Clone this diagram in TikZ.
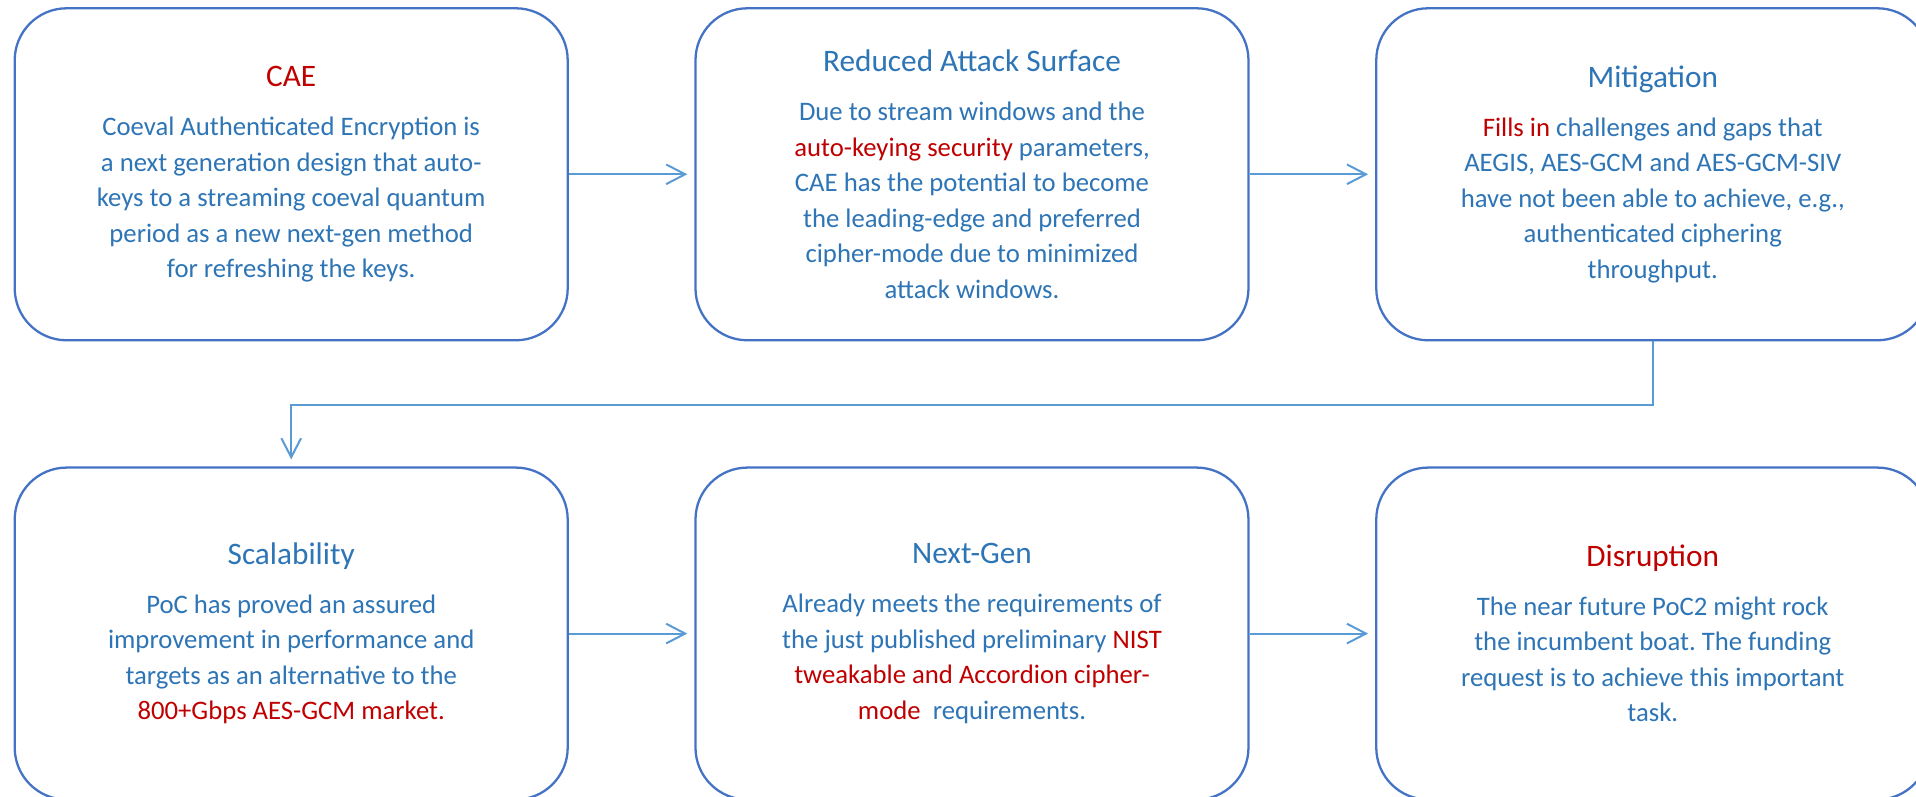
\documentclass[tikz,border=0pt]{standalone}
\usepackage{fontspec}
\setmainfont{Carlito}
\usetikzlibrary{positioning,arrows.meta}
\frenchspacing

\definecolor{boxblue}{HTML}{4472C4}
\definecolor{lineblue}{HTML}{5B9BD5}
\definecolor{txtblue}{HTML}{2E75B6}
\definecolor{hotred}{HTML}{C00000}

\newcommand{\hot}[1]{\textcolor{hotred}{#1}}
\newcommand{\boxtitle}[1]{{\fontsize{8.9}{10.1}\selectfont #1}\\[3.8pt]}

\tikzset{
  stage/.style={draw=boxblue, line width=0.65pt, rounded corners=0.52cm, fill=white,
    minimum width=5.53cm, minimum height=3.32cm, align=center, text=txtblue,
    font=\fontsize{7.6}{10.1}\selectfont},
  flow/.style={draw=lineblue, line width=0.57pt,
    -{Straight Barb[length=5.4pt,width=5.6pt]}, shorten >=2pt}
}

\begin{document}
\begin{tikzpicture}
\useasboundingbox (0,0) rectangle (19.16,7.97);

\node[stage] (cae) at (2.912,6.227) {\boxtitle{\hot{CAE}}
  Coeval Authenticated Encryption is\\
  a next generation design that auto-\\
  keys to a streaming coeval quantum\\
  period as a new next-gen method\\
  for refreshing the keys.};
\node[stage, right=1.255cm of cae] (surface) {\boxtitle{Reduced Attack Surface}
  Due to stream windows and the\\
  \hot{auto-keying security} parameters,\\
  CAE has the potential to become\\
  the leading-edge and preferred\\
  cipher-mode due to minimized\\
  attack windows.};
\node[stage, right=1.255cm of surface] (mitig) {\boxtitle{Mitigation}
  \hot{Fills in} challenges and gaps that\\
  AEGIS, AES-GCM and AES-GCM-SIV\\
  have not been able to achieve, e.g.,\\
  authenticated ciphering\\
  throughput.};

\node[stage, below=1.25cm of cae] (scal) {\boxtitle{Scalability}
  PoC has proved an assured\\
  improvement in performance and\\
  targets as an alternative to the\\
  \hot{800+Gbps AES-GCM market.}};
\node[stage, right=1.255cm of scal] (nextgen) {\boxtitle{Next-Gen}
  Already meets the requirements of\\
  the just published preliminary \hot{NIST}\\
  \hot{tweakable and Accordion cipher-}\\
  \hot{mode}\ \ requirements.};
\node[stage, right=1.255cm of nextgen] (disrupt) {\boxtitle{\hot{Disruption}}
  The near future PoC2 might rock\\
  the incumbent boat. The funding\\
  request is to achieve this important\\
  task.};

\draw[flow] (cae) -- (surface);
\draw[flow] (surface) -- (mitig);
\draw[flow] (mitig.south) -- ++(0,-0.633) -| (scal.north);
\draw[flow] (scal) -- (nextgen);
\draw[flow] (nextgen) -- (disrupt);
\end{tikzpicture}
\end{document}
